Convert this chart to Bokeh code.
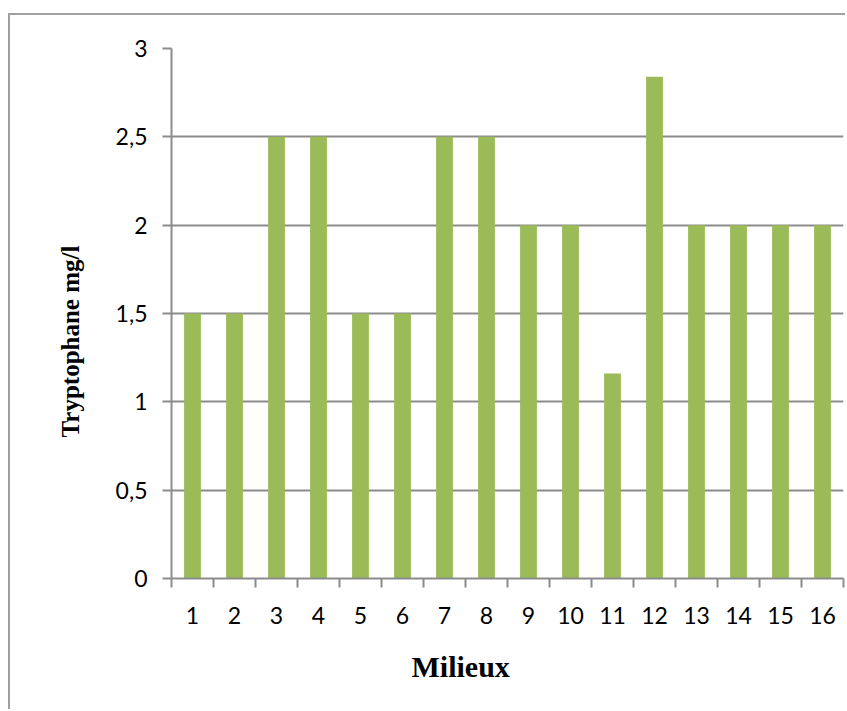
from bokeh.plotting import figure
from bokeh.models import ColumnDataSource, FixedTicker, Range1d, Title
from bokeh.embed import file_html
from bokeh.resources import INLINE

# Tryptophan concentration (mg/l) for each growth medium
milieux = list(range(1, 17))
tryptophane = [1.5, 1.5, 2.5, 2.5, 1.5, 1.5, 2.5, 2.5,
               2.0, 2.0, 1.16, 2.84, 2.0, 2.0, 2.0, 2.0]

y_ticks = [0, 0.5, 1, 1.5, 2, 2.5, 3]
y_tick_labels = ["0", "0,5", "1", "1,5", "2", "2,5", "3"]
x_tick_labels = [str(m) for m in milieux]

GREEN = "#9BBB59"
GREY = "#8c8c8c"
TICK_FONT = "Lato"
TITLE_FONT = "Liberation Serif"

src = ColumnDataSource(dict(milieu=milieux, valeur=tryptophane))

# chart area: grey border on the top and left edges of the figure box
p = figure(width=837, height=696, output_backend="svg", toolbar_location=None,
           x_range=Range1d(0.5, len(milieux) + 0.5), y_range=Range1d(0, 3),
           min_border_left=161, min_border_right=4,
           min_border_top=33, min_border_bottom=133,
           styles={"margin-left": "8px", "margin-top": "13px",
                   "border-left": "2px solid #a0a0a0",
                   "border-top": "2px solid #a0a0a0"})

p.vbar(x="milieu", top="valeur", width=0.4, source=src,
       fill_color=GREEN, line_color=None)

# y axis: ticks every 0.5 with comma decimals
p.yaxis.ticker = FixedTicker(ticks=y_ticks)
p.yaxis.major_label_overrides = dict(zip(y_ticks, y_tick_labels))
p.yaxis.major_tick_out = 9
p.yaxis.major_tick_in = 0
p.yaxis.minor_tick_out = 0
p.yaxis.minor_tick_in = 0
p.yaxis.major_label_standoff = 15

# x axis: labels centred on each medium, tick marks between media
p.xaxis.ticker = FixedTicker(ticks=milieux,
                             minor_ticks=[m - 0.5 for m in milieux] + [len(milieux) + 0.5])
p.xaxis.major_label_overrides = dict(zip(milieux, x_tick_labels))
p.xaxis.major_tick_out = 0
p.xaxis.major_tick_in = 0
p.xaxis.minor_tick_out = 9
p.xaxis.minor_tick_in = 0
p.xaxis.major_label_standoff = 19

for ax in (p.xaxis, p.yaxis):
    ax.axis_line_color = GREY
    ax.axis_line_width = 2
    ax.major_tick_line_color = GREY
    ax.major_tick_line_width = 2
    ax.minor_tick_line_color = GREY
    ax.minor_tick_line_width = 2
    ax.major_label_text_font = TICK_FONT
    ax.major_label_text_font_size = "23px"
    ax.major_label_text_color = "black"

p.xgrid.visible = False
p.ygrid.ticker = FixedTicker(ticks=y_ticks)
p.ygrid.grid_line_color = GREY
p.ygrid.grid_line_width = 2
p.outline_line_color = None

# axis titles
p.add_layout(Title(text="Tryptophane mg/l", align="left", offset=141,
                   vertical_align="middle", standoff=56,
                   text_font=TITLE_FONT, text_font_style="bold",
                   text_font_size="25px", text_color="black"), "left")
p.add_layout(Title(text="Milieux", align="left", offset=240,
                   vertical_align="top", standoff=46,
                   text_font=TITLE_FONT, text_font_style="bold",
                   text_font_size="30px", text_color="black"), "below")

open("out.html", "w").write(file_html(p, INLINE))
